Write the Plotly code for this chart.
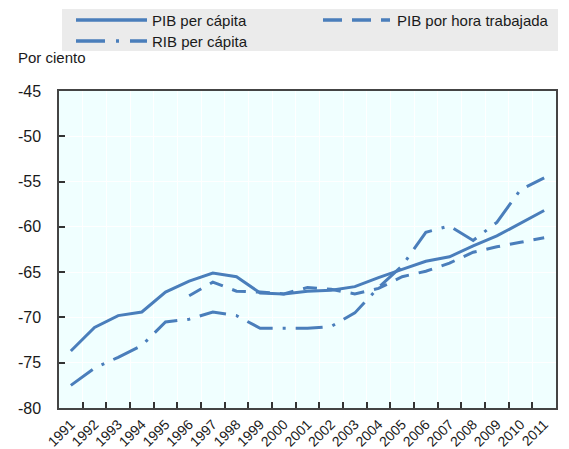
import plotly.graph_objects as go

years = [str(y) for y in range(1991, 2012)]

pib_pc = [-73.7, -71.1, -69.8, -69.4, -67.2, -66.0, -65.1, -65.5, -67.3, -67.4,
          -67.1, -67.0, -66.6, -65.6, -64.7, -63.8, -63.3, -62.1, -61.0, -59.6, -58.2]

pib_hora = [None, None, None, None, None, -67.6, -66.1, -67.1, -67.2, -67.4,
            -66.7, -66.9, -67.4, -66.8, -65.5, -64.9, -64.0, -62.8, -62.2, -61.7, -61.2]

rib_pc = [-77.5, -75.6, -74.4, -73.1, -70.5, -70.2, -69.4, -69.8, -71.2, -71.2,
          -71.2, -71.0, -69.5, -66.7, -64.3, -60.6, -59.9, -61.5, -59.5, -55.9, -54.6]

yticks = [-80, -75, -70, -65, -60, -55, -50, -45]

names = ["PIB per cápita", "PIB por hora trabajada", "RIB per cápita"]
dashes = ["solid", "14px,10px", "27px,10px,3px,10px"]
legend_dashes = ["solid", "19px,10px", "29px,11px,3px,11px"]

blue = "#4A7EBB"
font_family = "Liberation Sans, Arial, sans-serif"

# page body has an 8px default margin: the figure starts at (8, 8) in the window
OFF = 8
W, H = 569 - OFF, 449 - OFF
L, T = 59 - OFF, 91 - OFF
R, B = 13, 41
PW, PH = W - L - R, H - T - B


def px(x):
    return (x - OFF - L) / PW


def py(y):
    return (H - B - (y - OFF)) / PH


fig = go.Figure()
for name, vals, d in zip(names, [pib_pc, pib_hora, rib_pc], dashes):
    fig.add_trace(go.Scatter(x=years, y=vals, mode="lines", name=name,
                             line=dict(color=blue, width=3, dash=d)))

shapes = [dict(type="rect", xref="paper", yref="paper",
               x0=px(62), x1=px(558), y0=py(51), y1=py(9),
               fillcolor="#EBEBEB", line=dict(width=0), layer="below")]
annotations = []
legend_pos = [(76, 147, 150, 20), (323, 390, 395, 20), (76, 147, 150, 41)]
for name, d, (lx0, lx1, tx, ly) in zip(names, legend_dashes, legend_pos):
    shapes.append(dict(type="line", xref="paper", yref="paper",
                       x0=px(lx0), x1=px(lx1), y0=py(ly), y1=py(ly),
                       line=dict(color=blue, width=3.5, dash=d)))
    annotations.append(dict(text=name, x=px(tx), y=py(ly), xref="paper", yref="paper",
                            showarrow=False, xanchor="left", yanchor="middle",
                            font=dict(size=15)))
annotations.append(dict(text="Por ciento", x=px(16), y=py(57), xref="paper", yref="paper",
                        showarrow=False, xanchor="left", yanchor="middle",
                        font=dict(size=15)))

fig.update_layout(
    width=W, height=H,
    margin=dict(l=L, r=R, t=T, b=B),
    paper_bgcolor="white",
    plot_bgcolor="#F0FFFF",
    font=dict(family=font_family, size=15, color="#1a1a1a"),
    showlegend=False,
    shapes=shapes,
    annotations=annotations,
    xaxis=dict(
        type="category", tickson="boundaries", ticks="inside", ticklen=6,
        tickcolor="#333333", tickwidth=1.5, tickangle=-45, showgrid=True, gridcolor="white",
        gridwidth=1, showline=True, linecolor="#444444", linewidth=1.5, mirror=True,
        tickfont=dict(size=14), range=[-0.5, 20.5], automargin=False,
        ticklabelstandoff=1,
    ),
    yaxis=dict(
        range=[-80, -45], tickvals=yticks, ticktext=[str(v) for v in yticks],
        ticks="inside", ticklen=6, tickcolor="#333333", tickwidth=1.5, ticklabelstandoff=13,
        showgrid=True, gridcolor="white", gridwidth=1, zeroline=False,
        showline=True, linecolor="#444444", linewidth=1.5, mirror=True,
        tickfont=dict(size=16), automargin=False,
    ),
)

fig.write_html("out.html")
